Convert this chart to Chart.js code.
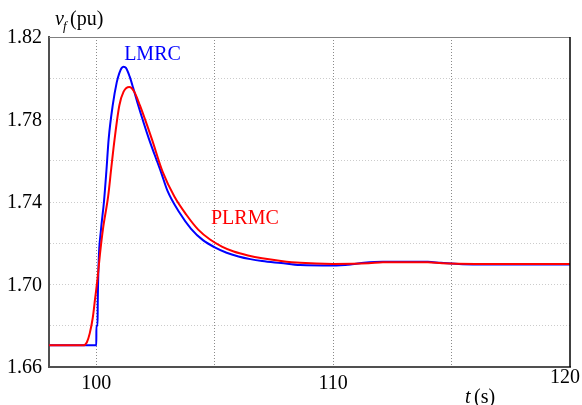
<!DOCTYPE html>
<html>
<head>
<meta charset="utf-8">
<script src="https://cdn.jsdelivr.net/npm/chart.js@4.4.1/dist/chart.umd.min.js"></script>
<style>
  html, body { margin: 0; padding: 0; background: #fff; }
  #wrap { width: 582px; height: 405px; position: relative; }
</style>
</head>
<body>
<div id="wrap"><canvas id="vf"></canvas></div>
<script>
// LMRC (blue)
const tBlue = [98, 99.999, 100.0, 100.05, 100.06, 100.1, 100.19, 100.32, 100.42, 100.52, 100.69, 100.86, 100.97,
  101.07, 101.15, 101.25, 101.4, 101.55, 101.77, 102.22, 102.73, 103.0, 103.5, 104.0, 104.5, 105.0, 105.5,
  106.0, 106.5, 107.0, 107.8, 108.6, 110.0, 110.8, 111.3, 112.1, 114.0, 114.55, 115.9, 120];
const vBlue = [1.6705, 1.6705, 1.680, 1.680, 1.692, 1.712, 1.726, 1.740, 1.7545, 1.7706, 1.7868, 1.798, 1.8025,
  1.805, 1.8056, 1.805, 1.801, 1.7955, 1.7868, 1.7706, 1.7545, 1.7455, 1.735, 1.727, 1.7215, 1.718, 1.7154,
  1.7136, 1.7123, 1.7114, 1.7104, 1.7094, 1.7092, 1.7098, 1.7105, 1.7110, 1.7110, 1.7105, 1.7097, 1.7097];

// PLRMC (red)
const tRed = [98, 99.45, 99.6, 99.72, 99.85, 99.94, 100.05, 100.15, 100.28, 100.5, 100.63, 100.77, 100.97, 101.15,
  101.39, 101.6, 101.84, 102.34, 102.8, 103.3, 103.8, 104.3, 104.8, 105.3, 105.8, 106.4, 107.0, 107.8, 108.6,
  110, 111.5, 112.1, 114.0, 114.6, 116, 120];
const vRed = [1.6705, 1.6705, 1.672, 1.6763, 1.684, 1.6925, 1.703, 1.7145, 1.727, 1.743, 1.7565, 1.7705, 1.7868, 1.7935,
  1.7958, 1.7935, 1.7868, 1.7706, 1.7546, 1.7425, 1.7338, 1.7266, 1.7218, 1.7184, 1.716, 1.7141, 1.7127, 1.7114, 1.7105,
  1.7100, 1.7103, 1.7108, 1.7108, 1.7103, 1.7100, 1.7100];

const xGridTicks = [100, 105, 110, 115];
const yGridTicks = [1.68, 1.70, 1.72, 1.74, 1.76, 1.78, 1.80];
const xTickLabels = ['100', '110', '120'];
const yTickLabels = ['1.66', '1.70', '1.74', '1.78', '1.82'];

const serif = '"Liberation Serif", "Times New Roman", serif';

function pts(ts, vs){
  return ts.map((t, i) => ({ x: t, y: vs[i] }));
}

const decor = {
  id: 'decor',
  afterDraw(chart){
    const ctx = chart.ctx;
    const a = chart.chartArea;
    const xs = chart.scales.x, ys = chart.scales.y;
    ctx.save();
    // top and right frame
    ctx.lineWidth = 1.2;
    ctx.strokeStyle = '#808080';
    ctx.beginPath();
    ctx.moveTo(a.left, a.top + 0.5);
    ctx.lineTo(a.right, a.top + 0.5);
    ctx.stroke();
    ctx.strokeStyle = '#000';
    ctx.lineWidth = 1.5;
    ctx.beginPath();
    ctx.moveTo(a.right, a.top);
    ctx.lineTo(a.right, a.bottom);
    ctx.stroke();

    ctx.fillStyle = '#000';
    ctx.font = '20px ' + serif;
    // y tick labels
    ctx.textAlign = 'right';
    ctx.textBaseline = 'middle';
    yTickLabels.forEach(s => {
      ctx.fillText(s, a.left - 7, ys.getPixelForValue(parseFloat(s)) + 1);
    });
    // x tick labels
    ctx.textAlign = 'center';
    xTickLabels.forEach(s => {
      const v = parseFloat(s);
      let px = xs.getPixelForValue(v), py = a.bottom + 17;
      if (v === 120) { px -= 5; py -= 6; }
      ctx.fillText(s, px, py);
    });

    // axis titles
    ctx.textAlign = 'left';
    ctx.textBaseline = 'alphabetic';
    ctx.font = 'italic 20px ' + serif;
    ctx.fillText('v', 55, 25);
    ctx.font = 'italic 13px ' + serif;
    ctx.fillText('f', 63, 30);
    ctx.font = '20px ' + serif;
    ctx.fillText('(pu)', 70, 25);

    ctx.font = 'italic 20px ' + serif;
    ctx.fillText('t', 465, 403);
    ctx.font = '20px ' + serif;
    ctx.fillText('(s)', 474, 403);

    // series labels
    ctx.textAlign = 'center';
    ctx.textBaseline = 'middle';
    ctx.fillStyle = '#0000ff';
    ctx.font = '20px ' + serif;
    ctx.fillText('LMRC', xs.getPixelForValue(102.37), ys.getPixelForValue(1.8112));
    ctx.fillStyle = '#ff0000';
    ctx.fillText('PLRMC', xs.getPixelForValue(106.27), ys.getPixelForValue(1.732));
    ctx.restore();
  }
};

new Chart(document.getElementById('vf'), {
  type: 'line',
  data: {
    datasets: [
      {
        label: 'PLRMC',
        data: pts(tRed, vRed),
        borderColor: '#ff0000',
        borderWidth: 2,
        pointRadius: 0,
        cubicInterpolationMode: 'monotone',
        order: 0
      },
      {
        label: 'LMRC',
        data: pts(tBlue, vBlue),
        borderColor: '#0000ff',
        borderWidth: 2,
        pointRadius: 0,
        cubicInterpolationMode: 'monotone',
        order: 1
      }
    ]
  },
  options: {
    responsive: true,
    maintainAspectRatio: false,
    animation: false,
    layout: { padding: { left: 49, top: 37, right: 12, bottom: 38 } },
    plugins: { legend: { display: false }, tooltip: { enabled: false } },
    scales: {
      x: {
        type: 'linear',
        min: 98,
        max: 120,
        afterBuildTicks: s => { s.ticks = xGridTicks.map(v => ({ value: v })); },
        ticks: { display: false },
        grid: { color: '#8a8a8a', lineWidth: 1, drawTicks: false, tickLength: 0 },
        border: { display: true, color: '#505050', width: 2, dash: [1, 2] }
      },
      y: {
        type: 'linear',
        min: 1.66,
        max: 1.82,
        afterBuildTicks: s => { s.ticks = yGridTicks.map(v => ({ value: v })); },
        ticks: { display: false },
        grid: { color: '#cccccc', lineWidth: 1, drawTicks: false, tickLength: 0 },
        border: { display: true, color: '#505050', width: 2, dash: [1, 2] }
      }
    }
  },
  plugins: [decor]
});
</script>
</body>
</html>
